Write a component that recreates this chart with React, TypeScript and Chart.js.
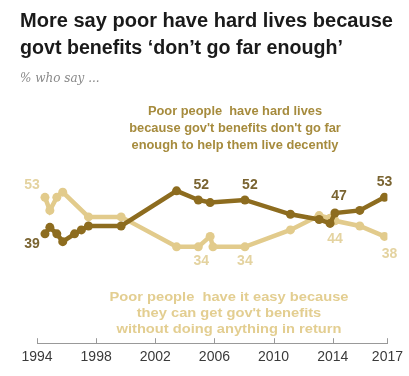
import React, { useEffect, useRef } from "react";
import { Chart, registerables } from "chart.js";

Chart.register(...registerables);

// ---- data ----
const hardYears = [1994.54, 1994.87, 1995.34, 1995.74, 1996.54, 1997.0, 1997.48, 1999.69, 2003.44, 2004.91, 2005.71, 2008.06, 2011.14, 2013.08, 2013.82, 2014.15, 2015.83, 2017.5];
const hardValues = [39, 41.5, 39, 36, 39, 40.5, 42, 42, 55.5, 52, 51, 52, 46.5, 44.5, 43, 47, 48, 53];
const easyYears = [1994.54, 1994.87, 1995.34, 1995.74, 1997.48, 1999.69, 2003.44, 2004.91, 2005.71, 2005.9, 2008.06, 2011.14, 2013.08, 2013.82, 2014.15, 2015.83, 2017.5];
const easyValues = [53, 48, 53, 55, 45.5, 45.5, 34, 34, 38, 34, 34, 40.5, 46, 45, 44, 42, 38];

const tickYears = [1994, 1998, 2002, 2006, 2010, 2014, 2017.7];
const tickLabels = ["1994", "1998", "2002", "2006", "2010", "2014", "2017"];

const hardLabelIdx = [0, 9, 11, 15, 17];
const easyLabelIdx = [0, 7, 10, 14, 16];

const titleLines = ["More say poor have hard lives because", "govt benefits \u2018don\u2019t go far enough\u2019"];
const subtitle = "% who say ...";
const hardNote = ["Poor people  have hard lives", "because gov't benefits don't go far", "enough to help them live decently"];
const easyNote = ["Poor people  have it easy because", "they can get gov't benefits", "without doing anything in return"];

// ---- styles ----
const DARK = "#8d6c1f";
const LIGHT = "#e2cb8c";
const DARK_NUM = "#7a6431";
const LIGHT_NUM = "#e4d3a0";
const DARK_NOTE = "#a68b3d";
const LIGHT_NOTE = "#e3ce91";

// label offsets (style): [dx, dy]
const hardLabelOffsets: [number, number][] = [[-13, 10], [3, -15], [5, -15], [4, -17], [0, -15]];
const easyLabelOffsets: [number, number][] = [[-13, -12], [3, 14], [0, 14], [0, 18], [5, 18]];

function drawScaled(ctx: CanvasRenderingContext2D, text: string, x: number, y: number, s: number, align: CanvasTextAlign) {
  ctx.save();
  ctx.translate(x, y);
  ctx.scale(s, 1);
  ctx.textAlign = align;
  ctx.fillText(text, 0, 0);
  ctx.restore();
}

export default function App() {
  const ref = useRef<HTMLCanvasElement>(null);

  useEffect(() => {
    const canvas = ref.current!;
    const overlay = {
      id: "overlay",
      afterDraw(chart: any) {
        const ctx: CanvasRenderingContext2D = chart.ctx;
        const xs = chart.scales.x;
        const bottom = chart.chartArea.bottom;
        ctx.save();
        // upward tick marks
        ctx.strokeStyle = "#999";
        ctx.lineWidth = 1;
        xs.ticks.forEach((t: any) => {
          const px = Math.round(xs.getPixelForValue(t.value)) + 0.5;
          ctx.beginPath();
          ctx.moveTo(px, bottom);
          ctx.lineTo(px, bottom - 5);
          ctx.stroke();
        });

        // title
        ctx.fillStyle = "#1a1a1a";
        ctx.font = 'bold 20px "Liberation Sans", Arial, sans-serif';
        ctx.textBaseline = "alphabetic";
        const w1 = ctx.measureText(titleLines[0]).width;
        const w2 = ctx.measureText(titleLines[1]).width;
        drawScaled(ctx, titleLines[0], 20, 27, 373 / w1, "left");
        drawScaled(ctx, titleLines[1], 20, 54, 323 / w2, "left");

        // subtitle
        ctx.fillStyle = "#8a8a8a";
        ctx.font = 'italic 12px "DejaVu Serif", serif';
        ctx.fillText(subtitle, 20, 82);

        // notes
        ctx.font = 'bold 13px "Liberation Sans", Arial, sans-serif';
        ctx.textBaseline = "middle";
        ctx.fillStyle = DARK_NOTE;
        const hs = 207 / ctx.measureText(hardNote[2]).width;
        hardNote.forEach((line, i) => drawScaled(ctx, line, 235, 111 + i * 17, hs, "center"));
        ctx.fillStyle = LIGHT_NOTE;
        const es = 225 / ctx.measureText(easyNote[2]).width;
        easyNote.forEach((line, i) => drawScaled(ctx, line, 229, 297 + i * 16, es, "center"));

        // value labels
        ctx.font = 'bold 14px "Liberation Sans", Arial, sans-serif';
        ctx.textAlign = "center";
        const hm = chart.getDatasetMeta(0).data;
        ctx.fillStyle = DARK_NUM;
        hardLabelIdx.forEach((idx, k) => {
          const p = hm[idx];
          ctx.fillText(String(Math.round(hardValues[idx])), p.x + hardLabelOffsets[k][0], p.y + hardLabelOffsets[k][1]);
        });
        const em = chart.getDatasetMeta(1).data;
        ctx.fillStyle = LIGHT_NUM;
        easyLabelIdx.forEach((idx, k) => {
          const p = em[idx];
          ctx.fillText(String(Math.round(easyValues[idx])), p.x + easyLabelOffsets[k][0], p.y + easyLabelOffsets[k][1]);
        });
        ctx.restore();
      },
    };

    const chart = new Chart(canvas, {
      type: "line",
      data: {
        datasets: [
          {
            label: "Hard lives",
            data: hardYears.map((x, i) => ({ x, y: hardValues[i] })),
            borderColor: DARK,
            backgroundColor: DARK,
            pointBackgroundColor: DARK,
            borderWidth: 4.5,
            pointRadius: 4.5,
            pointBorderWidth: 0,
            pointHoverRadius: 4.5,
            tension: 0,
            order: 0,
          },
          {
            label: "Have it easy",
            data: easyYears.map((x, i) => ({ x, y: easyValues[i] })),
            borderColor: LIGHT,
            backgroundColor: LIGHT,
            pointBackgroundColor: LIGHT,
            borderWidth: 4.5,
            pointRadius: 4.5,
            pointBorderWidth: 0,
            pointHoverRadius: 4.5,
            tension: 0,
            order: 1,
          },
        ],
      },
      options: {
        responsive: false,
        animation: false,
        devicePixelRatio: 1,
        layout: { padding: { left: 37, right: 18, top: 101, bottom: 4 } },
        plugins: {
          legend: { display: false },
          tooltip: { enabled: false },
        },
        scales: {
          x: {
            type: "linear",
            min: 1994,
            max: 2017.7,
            afterBuildTicks: (s: any) => {
              s.ticks = tickYears.map((v) => ({ value: v }));
            },
            ticks: {
              callback: (_v: any, i: number) => tickLabels[i],
              font: { family: '"Liberation Sans", Arial, sans-serif', size: 14 },
              color: "#3a3a3a",
              padding: 6,
              maxRotation: 0,
              autoSkip: false,
            },
            grid: { display: false, drawTicks: false },
            border: { display: true, color: "#999", width: 1 },
          },
          y: { display: false, min: -3, max: 90 },
        },
      },
      plugins: [overlay],
    } as any);

    return () => chart.destroy();
  }, []);

  return (
    <div style={{ position: "absolute", left: 0, top: 0, width: 409, height: 376, background: "#fff" }}>
      <canvas ref={ref} width={409} height={376} style={{ display: "block" }} />
    </div>
  );
}
